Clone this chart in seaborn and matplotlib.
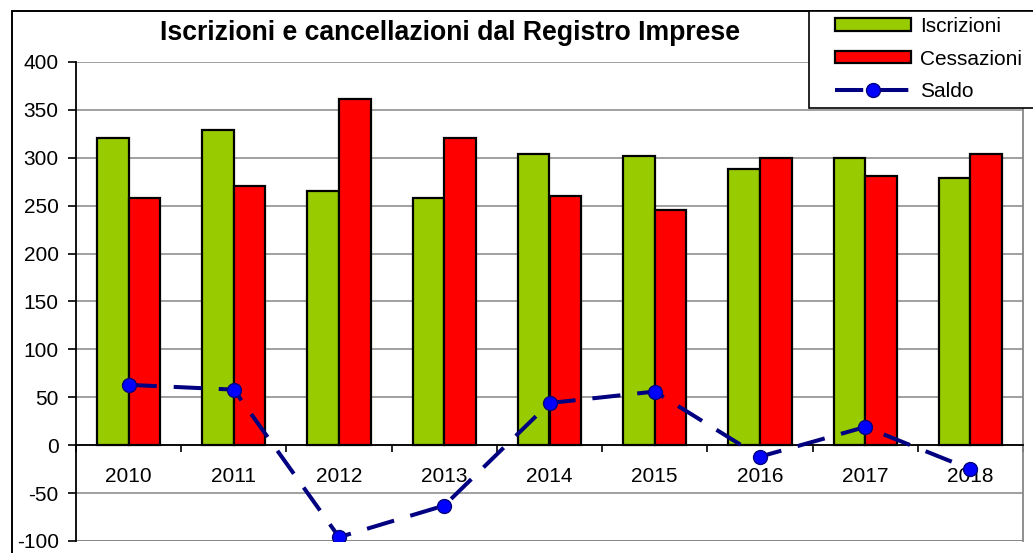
import numpy as np
import pandas as pd
import matplotlib
matplotlib.use("Agg")
import matplotlib.pyplot as plt
from matplotlib.patches import Rectangle, Patch
from matplotlib.lines import Line2D
import seaborn as sns

# Data
anni = ["2010", "2011", "2012", "2013", "2014", "2015", "2016", "2017", "2018"]
iscrizioni = [321, 329, 265, 258, 304, 302, 288, 300, 279]
cessazioni = [258, 271, 361, 321, 260, 246, 300, 281, 304]
saldo = [63, 58, -96, -63, 44, 56, -12, 19, -25]

titolo = "Iscrizioni e cancellazioni dal Registro Imprese"
serie = ["Iscrizioni", "Cessazioni", "Saldo"]

VERDE = "#99CC00"
ROSSO = "#FF0000"
NAVY = "#000080"
BLU = "#0000FF"
GRIGIO = "#868686"

sns.set_theme(style="white")
plt.rcParams["font.family"] = ["Liberation Sans", "DejaVu Sans"]
plt.rcParams["axes.unicode_minus"] = False
plt.rcParams["text.color"] = "black"
plt.rcParams["xtick.color"] = "black"
plt.rcParams["ytick.color"] = "black"

W, H = 1033, 553
fig = plt.figure(figsize=(W / 100, H / 100), dpi=100)
fig.patch.set_facecolor("white")

def px(x0, y0, x1, y1):
    return [x0 / W, 1 - y1 / H, (x1 - x0) / W, (y1 - y0) / H]

ax = fig.add_axes(px(76, 62, 1023, 541))
ax.set_facecolor("white")

df = pd.DataFrame({
    "anno": anni * 2,
    "valore": iscrizioni + cessazioni,
    "serie": [serie[0]] * len(anni) + [serie[1]] * len(anni),
})

sns.barplot(data=df, x="anno", y="valore", hue="serie",
            palette=[VERDE, ROSSO], width=0.6, edgecolor="black",
            linewidth=1.6, saturation=1, legend=False, ax=ax, zorder=3)

sns.lineplot(x=np.arange(len(anni)), y=saldo, color=NAVY, linewidth=2.9,
             linestyle=(0, (7, 4.2)), marker="o", markersize=10,
             markerfacecolor=BLU, markeredgecolor=NAVY, markeredgewidth=1,
             ax=ax, zorder=5)

ax.set_ylim(-100, 400)
ax.set_xlim(-0.5, len(anni) - 0.5)
ax.set_yticks(np.arange(-100, 401, 50))
ax.set_xlabel("")
ax.set_ylabel("")

# gridlines
ax.yaxis.grid(True, color=GRIGIO, linewidth=1.1, zorder=0)
ax.set_axisbelow(True)

# spines: left black, bottom at zero, right gray
ax.spines["top"].set_visible(False)
ax.spines["right"].set_color(GRIGIO)
ax.spines["right"].set_linewidth(1.3)
ax.spines["left"].set_color("black")
ax.spines["left"].set_linewidth(1.3)
ax.spines["bottom"].set_position(("data", 0))
ax.spines["bottom"].set_color("black")
ax.spines["bottom"].set_linewidth(1.3)
ax.spines["bottom"].set_zorder(4)

ax.tick_params(axis="y", which="major", direction="out", length=6, width=1.2,
               color="black", labelsize=15, pad=6.5, left=True,
               labelcolor="black")
ax.tick_params(axis="x", which="major", length=0, labelsize=15, pad=16,
               labelcolor="black")
ax.set_xticks(np.arange(-0.5, len(anni), 1.0), minor=True)
ax.tick_params(axis="x", which="minor", direction="out", length=5, width=1.2,
               color="black", bottom=True)

# bottom border of the plot area
ax.axhline(-100, color=GRIGIO, linewidth=2, zorder=1)

# outer chart frame
fig.patches.append(Rectangle((12 / W, -0.2), 1.5, 1 - 11 / H + 0.2,
                             transform=fig.transFigure, fill=False,
                             edgecolor="black", linewidth=1.4, zorder=1))

# title
fig.text(450 / W, 1 - 33 / H, titolo, ha="center", va="center",
         fontsize=19.2, fontweight="bold", color="black")

# legend box
fig.patches.append(Rectangle((809 / W, 1 - 108 / H), 0.5, 97 / H,
                             transform=fig.transFigure, facecolor="white",
                             edgecolor="black", linewidth=1.2, zorder=6))

handles = [
    Patch(facecolor=VERDE, edgecolor="black", linewidth=1.6),
    Patch(facecolor=ROSSO, edgecolor="black", linewidth=1.6),
    Line2D([], [], color=NAVY, linewidth=2.9, linestyle=(0, (7, 4.2)),
           marker="o", markersize=10, markerfacecolor=BLU,
           markeredgecolor=NAVY, markeredgewidth=1),
]
leg = fig.legend(handles, serie, loc="upper left",
                 bbox_to_anchor=(835 / W, 1 - 17 / H), frameon=False,
                 fontsize=15, handlelength=3.65, handleheight=0.55,
                 handletextpad=0.45, labelspacing=0.65, borderpad=0,
                 borderaxespad=0)
leg.set_zorder(7)

fig.savefig("out.png", dpi=100, facecolor="white")
